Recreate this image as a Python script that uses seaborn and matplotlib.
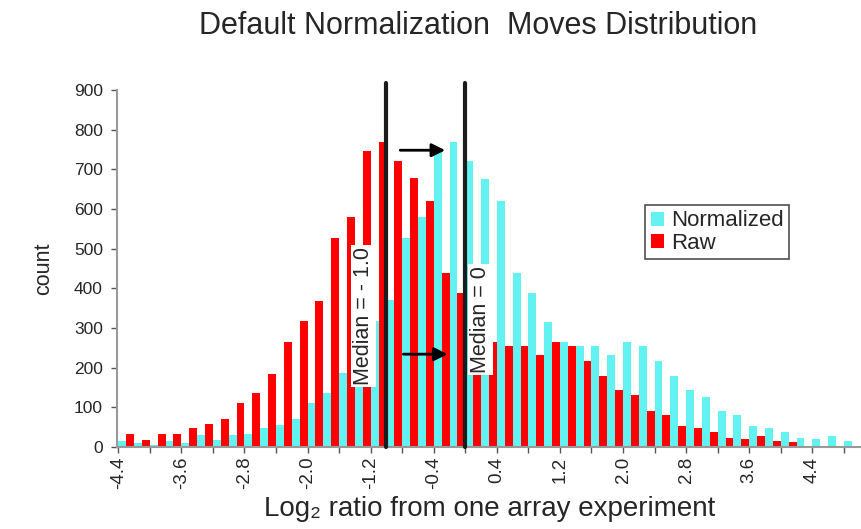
import pandas as pd
import numpy as np
import matplotlib
matplotlib.use('Agg')
import matplotlib.pyplot as plt
import matplotlib.ticker as mticker
import seaborn as sns

# left edges of the 0.2-wide log2 ratio bins
bin_left = [-4.4, -4.2, -4.0, -3.8, -3.6, -3.4, -3.2, -3.0, -2.8, -2.6,
            -2.4, -2.2, -2.0, -1.8, -1.6, -1.4, -1.2, -1.0, -0.8, -0.6,
            -0.4, -0.2, 0.0, 0.2, 0.4, 0.6, 0.8, 1.0, 1.2, 1.4,
            1.6, 1.8, 2.0, 2.2, 2.4, 2.6, 2.8, 3.0, 3.2, 3.4,
            3.6, 3.8, 4.0, 4.2, 4.4, 4.6, 4.8]

raw_counts = [33, 18, 33, 33, 48, 58, 71, 111, 136, 184,
              265, 317, 368, 527, 580, 745, 770, 720, 678, 621,
              439, 389, 316, 265, 255, 255, 232, 265, 255, 217,
              179, 144, 130, 91, 81, 54, 48, 37, 23, 21,
              27, 16, 13, 0, 0, 0, 0]

normalized_counts = [16, 10, 6, 14, 10, 31, 18, 31, 33, 48,
                     56, 71, 111, 136, 186, 265, 317, 370, 527, 580,
                     743, 770, 720, 676, 621, 439, 389, 316, 265, 255,
                     255, 232, 265, 255, 217, 179, 144, 127, 90, 80,
                     54, 48, 37, 23, 21, 27, 16]

x_tick_labels = ['-4.4', '-3.6', '-2.8', '-2.0', '-1.2', '-0.4',
                 '0.4', '1.2', '2.0', '2.8', '3.6', '4.4']
y_ticks = [0, 100, 200, 300, 400, 500, 600, 700, 800, 900]

median_values = [-1.0, 0.0]
median_labels = ['Median = - 1.0', 'Median = 0']

series_colors = {'Normalized': '#62f2f2', 'Raw': '#ff0000'}

n = len(bin_left)
df = pd.DataFrame({
    'bin': bin_left + bin_left,
    'count': normalized_counts + raw_counts,
    'series': ['Normalized'] * n + ['Raw'] * n,
})
df['center'] = (df['bin'] + 0.1).round(2)

sns.set_theme(style = 'white')
plt.rcParams['font.family'] = ['Liberation Sans', 'DejaVu Sans']

fig = plt.figure(figsize = (8.62, 5.29), dpi = 100)
ax = fig.add_axes([0.1354, 0.155, 0.8646, 0.675])

sns.barplot(data = df, x = 'center', y = 'count', hue = 'series',
            hue_order = ['Normalized', 'Raw'], palette = series_colors,
            native_scale = True, width = 1.0, dodge = True, saturation = 1,
            errorbar = None, linewidth = 0, ax = ax)

ax.set_xlim(-4.42, 5.03)
ax.set_ylim(0, 900)

ax.xaxis.set_major_locator(mticker.FixedLocator([float(s) for s in x_tick_labels]))
ax.set_xticklabels(x_tick_labels, rotation = 90, fontsize = 13.5)
ax.xaxis.set_minor_locator(mticker.MultipleLocator(0.4))
ax.set_yticks(y_ticks)
ax.set_yticklabels([str(v) for v in y_ticks], fontsize = 12.5)
ax.tick_params(axis = 'both', which = 'both', direction = 'out', length = 4,
               width = 1, color = '#555555', bottom = True, left = True)
ax.tick_params(axis = 'x', pad = 3)
ax.tick_params(axis = 'y', pad = 6)

for side in ['top', 'right']:
    ax.spines[side].set_visible(False)
for side in ['left', 'bottom']:
    ax.spines[side].set_color('#999999')
    ax.spines[side].set_linewidth(1.5)

# median markers
for m in median_values:
    ax.plot([m, m], [0, 918], color = '#1c1c1c', linewidth = 3, clip_on = False, zorder = 3)

ax.text(-1.295, 330, median_labels[0], rotation = 90, ha = 'center', va = 'center',
        fontsize = 15.5, zorder = 5,
        bbox = dict(facecolor = 'white', edgecolor = 'none', pad = 1.5))
ax.text(0.19, 322, median_labels[1], rotation = 90, ha = 'center', va = 'center',
        fontsize = 15.5, zorder = 5,
        bbox = dict(facecolor = 'white', edgecolor = 'none', pad = 1.5))

arrow_style = dict(arrowstyle = '-|>', color = 'black', linewidth = 2, mutation_scale = 20)
ax.annotate('', xy = (-0.22, 748), xytext = (-0.86, 748), arrowprops = arrow_style, zorder = 6)
ax.annotate('', xy = (-0.19, 234), xytext = (-0.82, 234), arrowprops = arrow_style, zorder = 6)

ax.set_xlabel('Log\u2082 ratio from one array experiment', fontsize = 20, labelpad = 5)
ax.set_ylabel('count', fontsize = 15.5, labelpad = 14)
fig.suptitle('Default Normalization  Moves Distribution', x = 0.555, y = 0.98, fontsize = 22)

leg = ax.legend(loc = 'upper left', bbox_to_anchor = (0.709, 0.678), borderaxespad = 0,
                fontsize = 16, frameon = True, fancybox = False, handlelength = 0.6,
                handleheight = 0.6, handletextpad = 0.3, borderpad = 0.25, labelspacing = 0.05)
leg.get_frame().set_edgecolor('#222222')
leg.get_frame().set_linewidth(1.2)

plt.savefig('out.png', dpi = 100)
plt.close()
